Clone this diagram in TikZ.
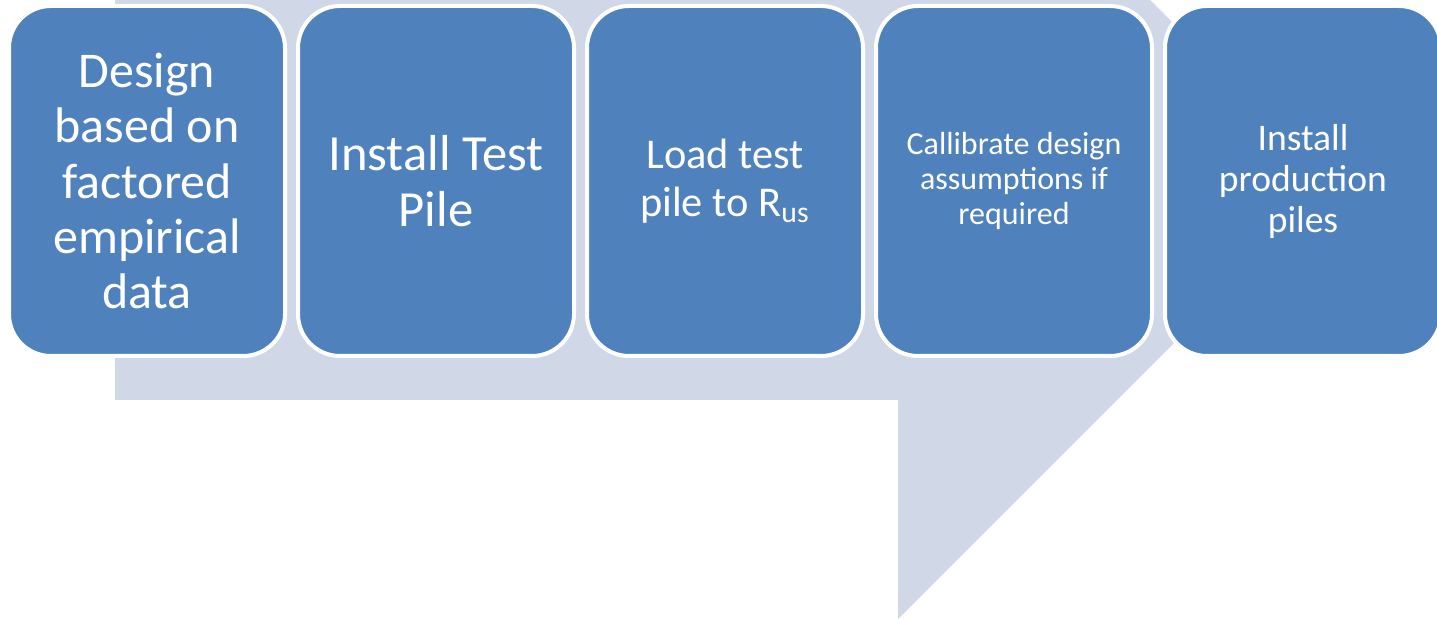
\documentclass[tikz,border=0pt]{standalone}
\usepackage{fontspec}
\setmainfont{Carlito}
\usetikzlibrary{positioning}

\definecolor{stepblue}{RGB}{79,129,189}
\definecolor{flowgray}{RGB}{208,216,232}

\begin{document}
\begin{tikzpicture}[x=0.5pt, y=-0.5pt,
    stepbox/.style={draw=white, line width=2pt, fill=stepblue, rounded corners=21pt,
      minimum width=138pt, minimum height=175pt, inner sep=0pt, outer sep=0pt,
      text=white, align=center},
    node distance=6.5pt]
  \clip (0,0) rectangle (1437,619);
  % big arrow behind the steps
  \fill[flowgray] (115,-34) -- (898,-34) -- (898,-252) -- (1333.5,183.5)
    -- (898,619) -- (898,400) -- (115,400) -- cycle;
  % the five steps
  \node[stepbox, font=\fontsize{25}{27.6}\selectfont] (design) at (147,181)
    {Design\\based on\\factored\\empirical\\data};
  \node[stepbox, right=of design, font=\fontsize{25.3}{28}\selectfont] (install)
    {Install Test\\Pile};
  \node[stepbox, right=of install, font=\fontsize{21.2}{24}\selectfont] (load)
    {Load test\\pile to R\textsubscript{us}};
  \node[stepbox, right=of load, font=\fontsize{16}{17.5}\selectfont] (calib)
    {Callibrate design\\assumptions if\\required};
  \node[stepbox, right=of calib, font=\fontsize{18.8}{20.5}\selectfont] (prod)
    {Install\\production\\piles};
\end{tikzpicture}
\end{document}
